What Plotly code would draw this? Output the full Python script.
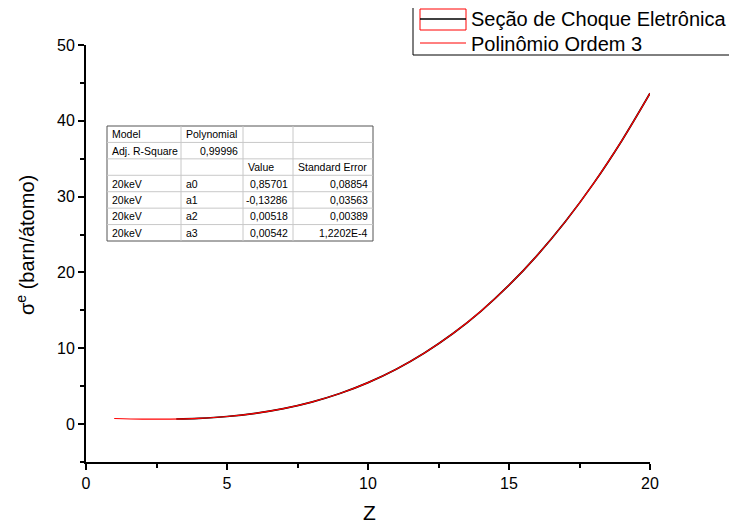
import plotly.graph_objects as go

# ---- data ----
fit_z = [1, 2, 3, 4, 5, 6, 7, 8, 9, 10, 11, 12, 13, 14, 15, 16, 17, 18, 19, 20]
fit_sigma = [0.74, 0.66, 0.65, 0.76, 1.00, 1.42, 2.04, 2.90, 4.03, 5.47,
             7.24, 9.38, 11.91, 14.88, 18.32, 22.26, 26.72, 31.75, 37.38, 43.63]

data_z = [3.2, 4, 5, 6, 7, 8, 9, 10, 11, 12, 13, 14, 15, 16, 17, 18, 19, 20]
data_sigma = [0.67, 0.76, 1.00, 1.42, 2.04, 2.90, 4.03, 5.47,
              7.24, 9.38, 11.91, 14.88, 18.32, 22.26, 26.72, 31.75, 37.38, 43.63]

table_rows = [
    ["Model", "Polynomial", "", ""],
    ["Adj. R-Square", "0,99996", "", ""],
    ["", "", "Value", "Standard Error"],
    ["20keV", "a0", "0,85701", "0,08854"],
    ["20keV", "a1", "-0,13286", "0,03563"],
    ["20keV", "a2", "0,00518", "0,00389"],
    ["20keV", "a3", "0,00542", "1,2202E-4"],
]
table_align = [
    ["left", "left", "right", "right"],
    ["left", "right", "right", "right"],
    ["left", "left", "left", "left"],
    ["left", "left", "right", "right"],
    ["left", "left", "right", "right"],
    ["left", "left", "right", "right"],
    ["left", "left", "right", "right"],
]

legend_labels = ["Seção de Choque Eletrônica", "Polinômio Ordem 3"]
x_title = "Z"
y_title = "σ<sup>e</sup> (barn/átomo)"

# ---- layout geometry (pixels in the screenshot) ----
OFF = 8  # page body margin
W, H = 737 - OFF, 527 - OFF
L, R, T, B = 86, 650, 45, 462  # plot area in screenshot pixels


def px(x):
    return (x - L) / (R - L)


def py(y):
    return (B - y) / (B - T)


fig = go.Figure()
fig.add_trace(go.Scatter(x=data_z, y=data_sigma, mode="lines",
                         line=dict(color="black", width=1.7, shape="spline"),
                         showlegend=False))
fig.add_trace(go.Scatter(x=fit_z, y=fit_sigma, mode="lines",
                         line=dict(color="#ff0000", width=1.2, shape="spline"),
                         showlegend=False))

shapes = []
annotations = []

# ---- parameter table ----
col_x = [107, 181, 243, 293, 373]
row_top, row_bot = 126, 241
nrows = len(table_rows)
rh = (row_bot - row_top) / nrows
shapes.append(dict(type="rect", xref="paper", yref="paper",
                   x0=px(col_x[0]), x1=px(col_x[-1]), y0=py(row_bot), y1=py(row_top),
                   line=dict(color="#555555", width=1), fillcolor="white", layer="above"))
for i in range(1, nrows):
    yy = row_top + i * rh
    shapes.append(dict(type="line", xref="paper", yref="paper",
                       x0=px(col_x[0]), x1=px(col_x[-1]), y0=py(yy), y1=py(yy),
                       line=dict(color="#c8c8c8", width=1), layer="above"))
for j in range(1, len(col_x) - 1):
    shapes.append(dict(type="line", xref="paper", yref="paper",
                       x0=px(col_x[j]), x1=px(col_x[j]), y0=py(row_bot), y1=py(row_top),
                       line=dict(color="#c8c8c8", width=1), layer="above"))
for i, row in enumerate(table_rows):
    yc = row_top + (i + 0.5) * rh
    for j, txt in enumerate(row):
        if not txt:
            continue
        al = table_align[i][j]
        xx = col_x[j] + 3 if al == "left" else col_x[j + 1] - 3
        annotations.append(dict(text=txt, xref="paper", yref="paper",
                                x=px(xx), y=py(yc), showarrow=False,
                                xanchor=al, yanchor="middle",
                                font=dict(family="Arial", size=10.5, color="black")))

# ---- legend box ----
shapes.append(dict(type="rect", xref="paper", yref="paper",
                   x0=px(413), x1=px(760), y0=py(55), y1=py(5),
                   line=dict(color="black", width=1), fillcolor="white"))
shapes.append(dict(type="rect", xref="paper", yref="paper",
                   x0=px(420), x1=px(466), y0=py(30), y1=py(9),
                   line=dict(color="#ff0000", width=1)))
shapes.append(dict(type="line", xref="paper", yref="paper",
                   x0=px(420), x1=px(466), y0=py(19), y1=py(19),
                   line=dict(color="black", width=1.5)))
shapes.append(dict(type="line", xref="paper", yref="paper",
                   x0=px(420), x1=px(466), y0=py(43), y1=py(43),
                   line=dict(color="#ff0000", width=1)))
for lab, yc in zip(legend_labels, [19, 44]):
    annotations.append(dict(text=lab, xref="paper", yref="paper",
                            x=px(469), y=py(yc), showarrow=False,
                            xanchor="left", yanchor="middle",
                            font=dict(family="Arial", size=20, color="black")))

# ---- axis titles ----
annotations.append(dict(text=x_title, xref="paper", yref="paper",
                        x=px(369), y=py(513), showarrow=False,
                        xanchor="center", yanchor="middle",
                        font=dict(family="Arial", size=21, color="black")))
annotations.append(dict(text=y_title, xref="paper", yref="paper",
                        x=px(25), y=py(245), showarrow=False, textangle=-90,
                        xanchor="center", yanchor="middle",
                        font=dict(family="Arial", size=20, color="black")))

axis_common = dict(showline=True, linecolor="black", linewidth=1.8,
                   ticks="outside", ticklen=6, tickwidth=1.8, tickcolor="black",
                   showgrid=False, zeroline=False, mirror=False, automargin=False,
                   tickfont=dict(family="Arial", size=16, color="black"))

fig.update_layout(
    width=W, height=H,
    margin=dict(l=L - OFF, r=(W + OFF) - R, t=T - OFF, b=(H + OFF) - B),
    paper_bgcolor="white", plot_bgcolor="white",
    showlegend=False,
    shapes=shapes, annotations=annotations,
    xaxis=dict(range=[0, 20], dtick=5, tick0=0,
               minor=dict(dtick=2.5, ticks="outside", ticklen=4, tickwidth=1.5, tickcolor="black"),
               **axis_common),
    yaxis=dict(range=[-5, 50], dtick=10, tick0=0,
               minor=dict(dtick=5, ticks="outside", ticklen=4, tickwidth=1.5, tickcolor="black"),
               **axis_common),
)

fig.write_html("out.html")
